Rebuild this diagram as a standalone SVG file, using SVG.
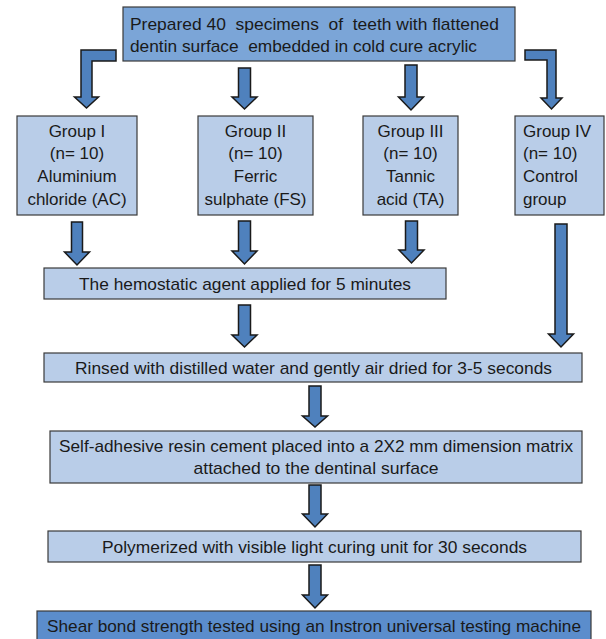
<svg xmlns="http://www.w3.org/2000/svg" width="606" height="639" viewBox="0 0 606 639">
<style>
.box{fill:#b9cde8;stroke:#3a3a3a;stroke-width:1.2}
.top{fill:#7ba5d7;stroke:#3a3a3a;stroke-width:1.2}
.fin{fill:#5b8dcc;stroke:#3a3a3a;stroke-width:1.2}
.arr{fill:#4f81bd;stroke:#1a1a1a;stroke-width:1.5;stroke-linejoin:miter}
text{font-family:"Liberation Sans",Arial,sans-serif;font-size:17px;fill:#1a1a1a}
.c{text-anchor:middle}
</style>
<rect width="606" height="639" fill="#ffffff"/>
<g id="connectors">
<path class="arr" d="M116,50 H81 V97 H74.5 L86.5,108 L98.5,97 H92 V61 H116 Z"/>
<path class="arr" d="M238.5,68 H250.5 V97 H257 L244.5,109 L232,97 H238.5 Z"/>
<path class="arr" d="M405,65 H417 V97 H423.5 L411,110 L398.5,97 H405 Z"/>
<path class="arr" d="M525,50 H556 V98 H562 L551.5,109 L541,98 H547 V60 H525 Z"/>
<path class="arr" d="M71.5,222 H82.5 V252 H89.5 L77,265 L64.5,252 H71.5 Z"/>
<path class="arr" d="M238.5,221 H250.5 V251 H257 L244.5,264 L232,251 H238.5 Z"/>
<path class="arr" d="M405.5,221 H417.5 V250 H424 L411.5,263 L399,250 H405.5 Z"/>
<path class="arr" d="M555,224 H567 V334 H573.5 L561,347 L548.5,334 H555 Z"/>
<path class="arr" d="M238.5,305 H250.5 V335 H257 L244.5,347 L232,335 H238.5 Z"/>
<path class="arr" d="M309,386 H321 V416 H327.5 L315,427 L302.5,416 H309 Z"/>
<path class="arr" d="M309,485 H321 V514 H327.5 L315,527 L302.5,514 H309 Z"/>
<path class="arr" d="M309,565 H321 V595 H327.5 L315,608 L302.5,595 H309 Z"/>
</g>
<g id="prepared">
<rect class="top" x="123" y="7" width="392" height="54"/>
<text x="130" y="30" textLength="369" lengthAdjust="spacingAndGlyphs" xml:space="preserve">Prepared 40  specimens  of  teeth with flattened</text>
<text x="130" y="52" textLength="347" lengthAdjust="spacingAndGlyphs" xml:space="preserve">dentin surface  embedded in cold cure acrylic</text>
</g>
<g id="group1">
<rect class="box" x="17" y="116" width="120" height="99"/>
<text class="c" x="77" y="137">Group I</text>
<text class="c" x="77" y="159">(n= 10)</text>
<text class="c" x="77" y="182">Aluminium</text>
<text class="c" x="77" y="205">chloride (AC)</text>
</g>
<g id="group2">
<rect class="box" x="198" y="116" width="115" height="99"/>
<text class="c" x="255.5" y="137">Group II</text>
<text class="c" x="255.5" y="159">(n= 10)</text>
<text class="c" x="255.5" y="182">Ferric</text>
<text class="c" x="255.5" y="205">sulphate (FS)</text>
</g>
<g id="group3">
<rect class="box" x="363" y="116" width="95" height="99"/>
<text class="c" x="410.5" y="137">Group III</text>
<text class="c" x="410.5" y="159">(n= 10)</text>
<text class="c" x="410.5" y="182">Tannic</text>
<text class="c" x="410.5" y="205">acid (TA)</text>
</g>
<g id="group4">
<rect class="box" x="515" y="116" width="89" height="99"/>
<text x="523" y="137">Group IV</text>
<text x="523" y="159">(n= 10)</text>
<text x="523" y="182">Control</text>
<text x="523" y="205">group</text>
</g>
<g id="hemostatic">
<rect class="box" x="44" y="268" width="402" height="31"/>
<text class="c" x="245" y="290" textLength="332" lengthAdjust="spacingAndGlyphs">The hemostatic agent applied for 5 minutes</text>
</g>
<g id="rinsed">
<rect class="box" x="44" y="353" width="538" height="29"/>
<text class="c" x="313.5" y="374" textLength="477" lengthAdjust="spacingAndGlyphs">Rinsed with distilled water and gently air dried for 3-5 seconds</text>
</g>
<g id="cement">
<rect class="box" x="50" y="431" width="532" height="52"/>
<text class="c" x="316" y="452" textLength="514" lengthAdjust="spacingAndGlyphs">Self-adhesive resin cement placed into a 2X2 mm dimension matrix</text>
<text class="c" x="316" y="474" textLength="245" lengthAdjust="spacingAndGlyphs">attached to the dentinal surface</text>
</g>
<g id="polymerized">
<rect class="box" x="48" y="531" width="533" height="31"/>
<text class="c" x="314.5" y="553" textLength="425" lengthAdjust="spacingAndGlyphs">Polymerized with visible light curing unit for 30 seconds</text>
</g>
<g id="shear">
<rect class="fin" x="37" y="611" width="554" height="30"/>
<text class="c" x="314" y="632" textLength="534" lengthAdjust="spacingAndGlyphs">Shear bond strength tested using an Instron universal testing machine</text>
</g>
</svg>
